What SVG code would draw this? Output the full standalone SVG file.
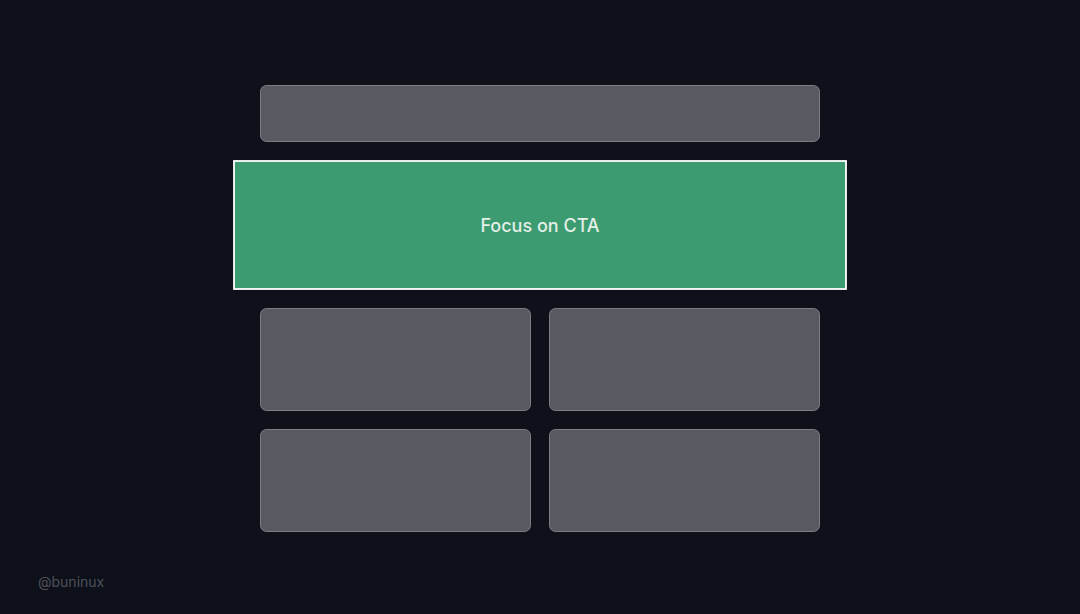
<svg xmlns="http://www.w3.org/2000/svg" width="1080" height="614" viewBox="0 0 1080 614">
<style>
.box{fill:#585a62;stroke:#7b7e86;stroke-width:1}
.cta{fill:#3c9b70;stroke:#ffffff;stroke-width:1.8}
.lbl{font-family:Inter,"Noto Sans",sans-serif;font-size:18px;font-weight:500;fill:#e3efe7;text-anchor:middle}
.wm{font-family:Inter,"Noto Sans",sans-serif;font-size:14px;fill:#4c5058}
</style>
<rect width="1080" height="614" fill="#0e111a"/>
<g id="header"><rect class="box" x="260.5" y="85.5" width="559" height="56" rx="6"/></g>
<g id="cta"><rect class="cta" x="234" y="161" width="612" height="128"/><text class="lbl" x="540" y="232">Focus on CTA</text></g>
<g id="card1"><rect class="box" x="260.5" y="308.5" width="270" height="102" rx="6"/></g>
<g id="card2"><rect class="box" x="549.5" y="308.5" width="270" height="102" rx="6"/></g>
<g id="card3"><rect class="box" x="260.5" y="429.5" width="270" height="102" rx="6"/></g>
<g id="card4"><rect class="box" x="549.5" y="429.5" width="270" height="102" rx="6"/></g>
<g id="connectors"/>
<text class="wm" x="38" y="587">@buninux</text>
</svg>
